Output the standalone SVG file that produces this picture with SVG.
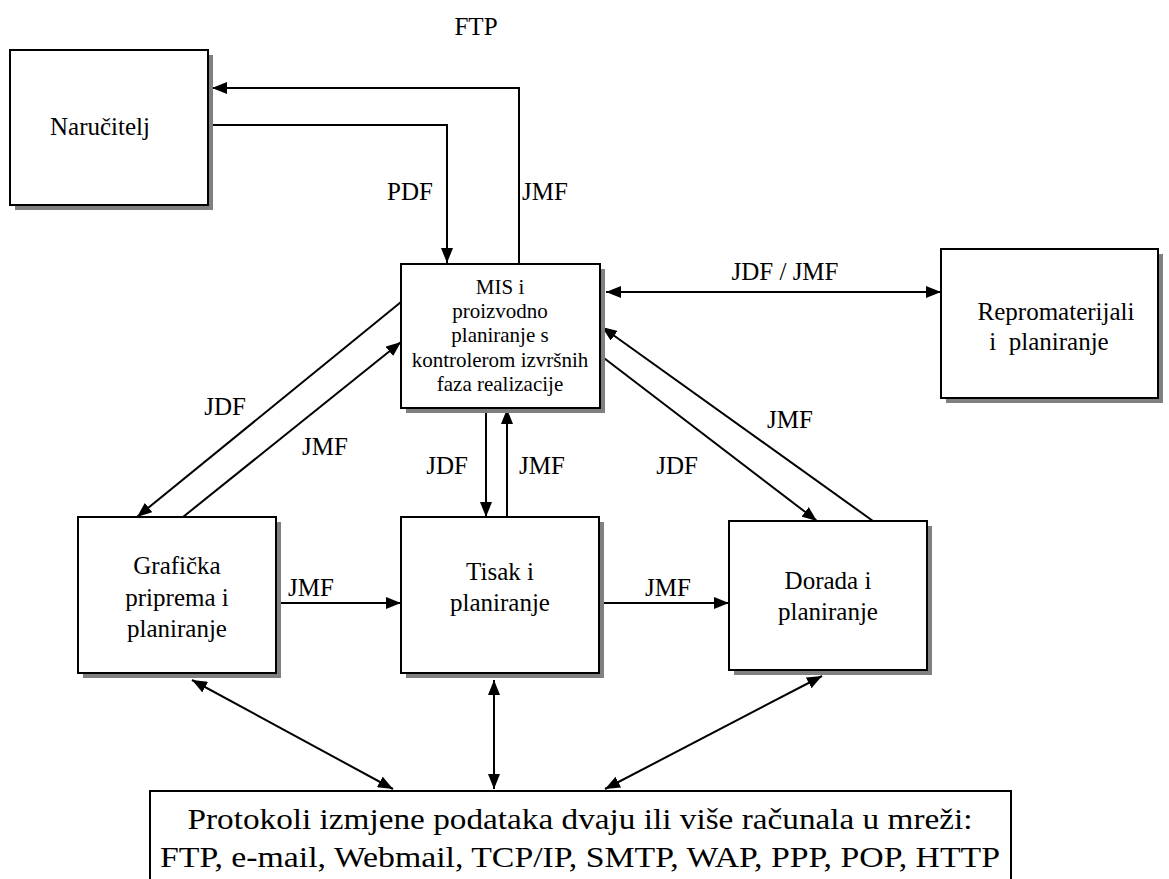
<svg xmlns="http://www.w3.org/2000/svg" width="1169" height="879" viewBox="0 0 1169 879">
<defs>
<marker id="ah" viewBox="0 0 15 12" refX="15" refY="6" markerWidth="15" markerHeight="12" markerUnits="userSpaceOnUse" orient="auto-start-reverse">
<path d="M0,0 L15,6 L0,12 Z" fill="#000"/>
</marker>
</defs>
<style>
.box{fill:#fff;stroke:#000;stroke-width:2}
.sh{fill:#808080}
.t{font-family:'Liberation Serif','Times New Roman','DejaVu Serif',serif;font-size:25px;fill:#000;text-anchor:middle}
.m{font-size:21px}
.b{font-size:30px}
.c{fill:none;stroke:#000;stroke-width:2}
</style>
<rect width="1169" height="879" fill="#fff"/>
<g id="connectors" font-family="'Liberation Serif','Times New Roman',serif">
<path class="c" d="M519,263 V88 H212" marker-end="url(#ah)"/>
<path class="c" d="M208,125 H447 V263" marker-end="url(#ah)"/>
<path class="c" d="M606,292 H941" marker-start="url(#ah)" marker-end="url(#ah)"/>
<path class="c" d="M401,302 L137,517" marker-end="url(#ah)"/>
<path class="c" d="M183,517 L401,342" marker-end="url(#ah)"/>
<path class="c" d="M486,408 V517" marker-end="url(#ah)"/>
<path class="c" d="M507,517 V409" marker-end="url(#ah)"/>
<path class="c" d="M600,355 L817,521" marker-end="url(#ah)"/>
<path class="c" d="M873,521 L602,327" marker-end="url(#ah)"/>
<path class="c" d="M276,603 H401" marker-end="url(#ah)"/>
<path class="c" d="M599,603 H729" marker-end="url(#ah)"/>
<path class="c" d="M192,680 L393,789" marker-start="url(#ah)" marker-end="url(#ah)"/>
<path class="c" d="M494,680 V789" marker-start="url(#ah)" marker-end="url(#ah)"/>
<path class="c" d="M822,676 L605,789" marker-start="url(#ah)" marker-end="url(#ah)"/>
<text class="t" x="476" y="35">FTP</text>
<text class="t" x="410" y="200">PDF</text>
<text class="t" x="545" y="200">JMF</text>
<text class="t" x="785" y="280">JDF / JMF</text>
<text class="t" x="225" y="415">JDF</text>
<text class="t" x="325" y="455">JMF</text>
<text class="t" x="447" y="474">JDF</text>
<text class="t" x="542" y="474">JMF</text>
<text class="t" x="677" y="474">JDF</text>
<text class="t" x="790" y="428">JMF</text>
<text class="t" x="311" y="596">JMF</text>
<text class="t" x="668" y="596">JMF</text>
</g>
<g id="narucitelj" font-family="'Liberation Serif','Times New Roman',serif">
<rect class="sh" x="15" y="55" width="198" height="155"/>
<rect class="box" x="10" y="50" width="198" height="155"/>
<text class="t" x="100" y="135">Naručitelj</text>
</g>
<g id="mis" font-family="'Liberation Serif','Times New Roman',serif">
<rect class="sh" x="406" y="269" width="199" height="144"/>
<rect class="box" x="401" y="264" width="199" height="144"/>
<text class="t m" x="500" y="294">MIS i</text>
<text class="t m" x="500" y="318">proizvodno</text>
<text class="t m" x="500" y="342">planiranje s</text>
<text class="t m" x="500" y="367">kontrolerom izvršnih</text>
<text class="t m" x="500" y="391">faza realizacije</text>
</g>
<g id="repromaterijali" font-family="'Liberation Serif','Times New Roman',serif">
<rect class="sh" x="946" y="254" width="217" height="149"/>
<rect class="box" x="941" y="249" width="217" height="149"/>
<text class="t" x="1056" y="320">Repromaterijali</text>
<text class="t" x="1049" y="350" xml:space="preserve">i  planiranje</text>
</g>
<g id="graficka" font-family="'Liberation Serif','Times New Roman',serif">
<rect class="sh" x="83" y="522" width="198" height="156"/>
<rect class="box" x="78" y="517" width="198" height="156"/>
<text class="t" x="177" y="574">Grafička</text>
<text class="t" x="177" y="606">priprema i</text>
<text class="t" x="177" y="637">planiranje</text>
</g>
<g id="tisak" font-family="'Liberation Serif','Times New Roman',serif">
<rect class="sh" x="406" y="522" width="198" height="156"/>
<rect class="box" x="401" y="517" width="198" height="156"/>
<text class="t" x="500" y="580">Tisak i</text>
<text class="t" x="500" y="611">planiranje</text>
</g>
<g id="dorada" font-family="'Liberation Serif','Times New Roman',serif">
<rect class="sh" x="734" y="526" width="198" height="149"/>
<rect class="box" x="729" y="521" width="198" height="149"/>
<text class="t" x="828" y="589">Dorada i</text>
<text class="t" x="828" y="620">planiranje</text>
</g>
<g id="protokoli" font-family="'Liberation Serif','Times New Roman',serif">
<rect class="box" x="150" y="791" width="861" height="100"/>
<text class="t b" x="580" y="829" textLength="785" lengthAdjust="spacingAndGlyphs">Protokoli izmjene podataka dvaju ili više računala u mreži:</text>
<text class="t b" x="580" y="867" textLength="840" lengthAdjust="spacingAndGlyphs">FTP, e-mail, Webmail, TCP/IP, SMTP, WAP, PPP, POP, HTTP</text>
</g>
</svg>
